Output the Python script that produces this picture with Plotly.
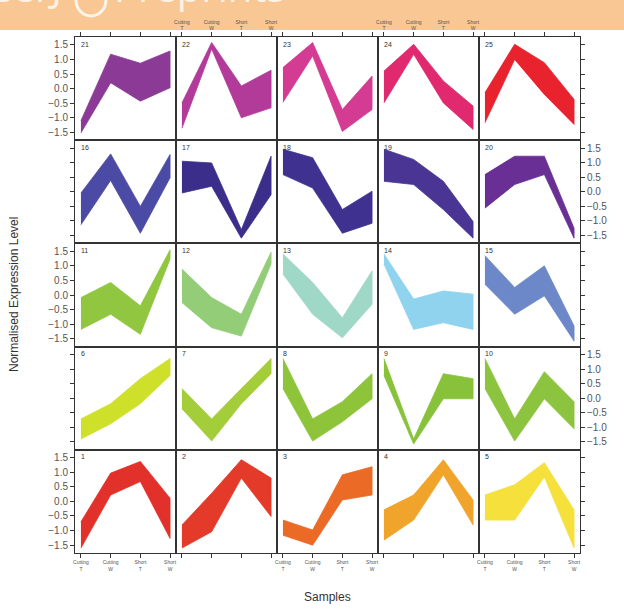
import plotly.graph_objects as go
from plotly.subplots import make_subplots

samples = ["Cutting<br>T", "Cutting<br>W", "Short<br>T", "Short<br>W"]
sample_x = [1, 2, 3, 4]
y_ticks = [-1.5, -1.0, -0.5, 0.0, 0.5, 1.0, 1.5]
y_tick_labels = ["\u22121.5", "\u22121.0", "\u22120.5", "0.0", "0.5", "1.0", "1.5"]
clusters = list(range(1, 26))

upper = [
    [-0.70, 0.97, 1.37, 0.11],   # 1
    [-0.81, 0.28, 1.43, 0.80],   # 2
    [-0.64, -0.98, 0.91, 1.19],  # 3
    [-0.29, 0.22, 1.43, 0.05],   # 4
    [0.22, 0.57, 1.33, -0.29],   # 5
    [-0.71, -0.19, 0.67, 1.36],  # 6
    [0.33, -0.71, 0.33, 1.36],   # 7
    [1.36, -0.71, -0.12, 0.84],  # 8
    [1.36, -1.40, 0.84, 0.67],   # 9
    [1.36, -0.71, 0.91, -0.12],  # 10
    [-0.09, 0.43, -0.37, 1.55],  # 11
    [0.89, -0.09, -0.66, 1.47],  # 12
    [1.41, 0.43, -0.78, 0.83],   # 13
    [1.41, -0.14, 0.14, 0.03],   # 14
    [1.35, 0.26, 1.00, -1.06],   # 15
    [-0.04, 1.30, -0.50, 1.28],  # 16
    [1.05, 0.99, -1.30, 1.22],   # 17
    [1.46, 1.17, -0.61, 0.02],   # 18
    [1.46, 1.11, 0.36, -1.02],   # 19
    [0.59, 1.22, 1.22, -1.25],   # 20
    [-1.10, 1.18, 0.87, 1.29],   # 21
    [-0.49, 1.58, 0.09, 0.63],   # 22
    [0.72, 1.58, -0.72, 0.43],   # 23
    [0.60, 1.52, 0.26, -0.60],   # 24
    [-0.14, 1.52, 0.89, -0.37],  # 25
]

lower = [
    [-1.60, 0.22, 0.68, -1.27],  # 1
    [-1.60, -1.04, 0.80, -0.52], # 2
    [-1.16, -1.50, 0.05, 0.22],  # 3
    [-1.33, -0.64, 0.91, -0.81], # 4
    [-0.64, -0.64, 0.84, -1.60], # 5
    [-1.40, -0.88, -0.19, 0.78], # 6
    [-0.36, -1.47, -0.19, 0.84], # 7
    [0.33, -1.47, -0.81, -0.02], # 8
    [0.78, -1.57, -0.02, -0.02], # 9
    [0.33, -1.47, -0.02, -1.05], # 10
    [-1.18, -0.66, -1.35, 1.23], # 11
    [-0.26, -1.12, -1.41, 1.06], # 12
    [0.72, -0.66, -1.47, -0.32], # 13
    [1.06, -1.18, -0.95, -1.18], # 14
    [0.37, -0.66, -0.03, -1.58], # 15
    [-1.13, 0.39, -1.42, 0.48],  # 16
    [-0.04, 0.19, -1.59, -0.10], # 17
    [0.59, 0.13, -1.42, -1.08],  # 18
    [0.36, 0.25, -0.61, -1.59],  # 19
    [-0.56, 0.25, 0.59, -1.59],  # 20
    [-1.52, 0.20, -0.43, 0.03],  # 21
    [-1.36, 1.36, -1.00, -0.66], # 22
    [-0.47, 1.12, -1.47, -0.72], # 23
    [-0.49, 1.18, -0.49, -1.40], # 24
    [-1.17, 1.00, -0.20, -1.23], # 25
]

colors = [
    "#e2312a", "#e33a2a", "#eb6b26", "#f1a42c", "#f5e03c",
    "#cfe02a", "#a4cd3a", "#8dc43a", "#87c23a", "#8cc43f",
    "#90c640", "#93cd78", "#a0d8c8", "#8fd3ef", "#6c88c8",
    "#4b4ba5", "#3b2e8a", "#3f318f", "#4a3595", "#6a2f95",
    "#8b3a96", "#b23a99", "#d43b93", "#e0296f", "#e8232e",
]

W, H = 624, 610
ML, MR, MT, MB = 75, 44, 37, 57
PW = W - ML - MR
PH = H - MT - MB

fig = make_subplots(rows=5, cols=5, horizontal_spacing=0, vertical_spacing=0)

font_family = "Liberation Sans, Arial, sans-serif"
tick_color = "#555555"
line_color = "#333333"

for k, cl in enumerate(clusters):
    r = 5 - (cl - 1) // 5
    c = (cl - 1) % 5 + 1
    up = upper[k]
    lo = lower[k]
    xs = sample_x + sample_x[::-1]
    ys = up + lo[::-1]
    fig.add_trace(
        go.Scatter(x=xs, y=ys, fill="toself", fillcolor=colors[k],
                   line=dict(color=colors[k], width=0.8), mode="lines",
                   hoverinfo="skip", showlegend=False),
        row=r, col=c)
    fig.add_annotation(row=r, col=c, xref="x domain", yref="y domain",
                       x=0.04, y=0.985, xanchor="left", yanchor="top",
                       text=str(cl), showarrow=False,
                       font=dict(size=7, color="#333333", family=font_family))

for r in range(1, 6):
    for c in range(1, 6):
        xa = dict(range=[0.8, 4.2], showgrid=False, zeroline=False,
                  showline=True, mirror=True, linecolor=line_color, linewidth=1,
                  tickvals=sample_x, ticktext=samples,
                  tickfont=dict(size=5, color=tick_color, family=font_family),
                  ticks="", showticklabels=False)
        if r == 5:
            xa.update(ticks="outside", ticklen=4, tickcolor=line_color,
                      side="bottom", showticklabels=(c in (1, 3, 5)))
        elif r == 1:
            xa.update(ticks="outside", ticklen=4, tickcolor=line_color,
                      side="top", showticklabels=(c in (2, 4)))
        fig.update_xaxes(row=r, col=c, **xa)
        ya = dict(range=[-1.77, 1.77], showgrid=False, zeroline=False,
                  showline=True, mirror=True, linecolor=line_color, linewidth=1,
                  tickvals=y_ticks, ticktext=y_tick_labels,
                  tickfont=dict(size=10, color=tick_color, family=font_family),
                  ticks="", showticklabels=False)
        if c == 1:
            ya.update(ticks="outside", ticklen=4, tickcolor=line_color,
                      side="left", showticklabels=(r in (1, 3, 5)))
        elif c == 5:
            ya.update(ticks="outside", ticklen=4, tickcolor=line_color,
                      side="right", showticklabels=(r in (2, 4)))
        fig.update_yaxes(row=r, col=c, **ya)

def px_to_paper_y(py):
    return 1 + (MT - py) / PH

def px_to_paper_x(px):
    return (px - ML) / PW

# banner at top of the page
fig.add_shape(type="rect", xref="paper", yref="paper", layer="below",
              x0=px_to_paper_x(0), x1=px_to_paper_x(W),
              y0=px_to_paper_y(30), y1=px_to_paper_y(0),
              fillcolor="#f8c794", line=dict(width=0))
fig.add_shape(type="circle", xref="paper", yref="paper", layer="below",
              x0=px_to_paper_x(76), x1=px_to_paper_x(106),
              y0=px_to_paper_y(16), y1=px_to_paper_y(-16),
              fillcolor="rgba(0,0,0,0)", line=dict(color="rgba(255,255,255,0.8)", width=3))
fig.add_annotation(xref="paper", yref="paper",
                   x=px_to_paper_x(112), y=px_to_paper_y(16),
                   xanchor="left", yanchor="bottom", showarrow=False,
                   text="Preprints",
                   font=dict(size=40, color="rgba(255,255,255,0.75)", family="Open Sans"))
fig.add_annotation(xref="paper", yref="paper",
                   x=px_to_paper_x(-12), y=px_to_paper_y(16),
                   xanchor="left", yanchor="bottom", showarrow=False,
                   text="eerJ",
                   font=dict(size=40, color="rgba(255,255,255,0.75)", family="Open Sans"))

# axis titles
fig.add_annotation(xref="paper", yref="paper", x=px_to_paper_x(14), y=0.5,
                   text="Normalised Expression Level", textangle=-90,
                   showarrow=False, xanchor="center", yanchor="middle",
                   font=dict(size=12, color="#333333", family=font_family))
fig.add_annotation(xref="paper", yref="paper", x=0.5, y=px_to_paper_y(597),
                   text="Samples", showarrow=False, xanchor="center", yanchor="middle",
                   font=dict(size=12, color="#333333", family=font_family))

fig.update_layout(width=W, height=H,
                  margin=dict(l=ML, r=MR, t=MT, b=MB, pad=0),
                  paper_bgcolor="white", plot_bgcolor="white",
                  font=dict(family=font_family), showlegend=False)

fig.write_html("out.html")
